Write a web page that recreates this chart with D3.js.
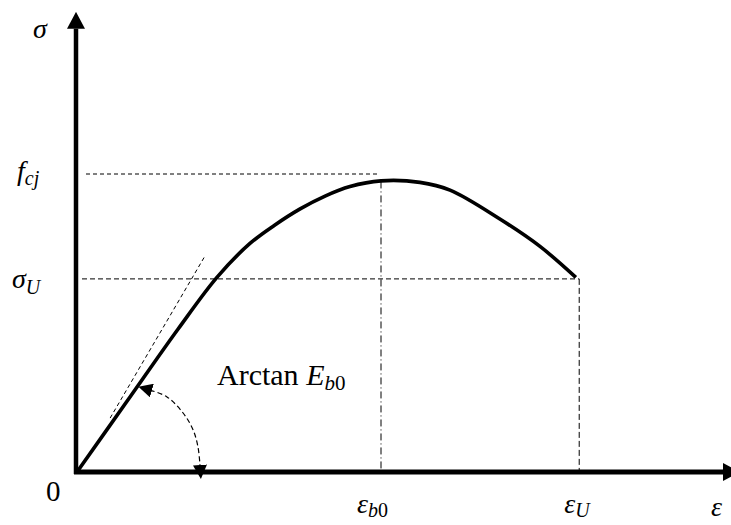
<!DOCTYPE html>
<html><head><meta charset="utf-8">
<script src="https://cdn.jsdelivr.net/npm/d3@7"></script>
<style>html,body{margin:0;padding:0;background:#fff;overflow:hidden}</style>
</head><body>
<svg id="chart" width="731" height="525"></svg>
<script>
// Stress–strain curve of concrete (strain relative to ε_b0, stress relative to f_cj)
const strain = [0, 0.165, 0.332, 0.461, 0.569, 0.651, 0.734, 0.816, 0.898, 1.0, 1.128, 1.227, 1.391, 1.523, 1.641];
const stress = [0, 0.238, 0.479, 0.654, 0.767, 0.829, 0.883, 0.926, 0.958, 0.977, 0.972, 0.946, 0.849, 0.757, 0.653];

// Reference levels marked on the axes
const epsB0 = 1.0, epsU = 1.652;
const fcj = 1.0, sigmaU = 0.648;

// Initial tangent (modulus E_b0)
const tangentStrain = [0.109, 0.421];
const tangentStress = [0.181, 0.725];

// Angle arc showing arctan E_b0
const arcStrain = [0.240, 0.296, 0.349, 0.382, 0.398, 0.405];
const arcStress = [0.275, 0.252, 0.198, 0.141, 0.084, 0.017];

// Axis extents
const xMax = 2.125, yMax = 1.487;

const svg = d3.select("#chart");
const x = d3.scaleLinear().domain([0, 1]).range([77, 381]);
const y = d3.scaleLinear().domain([0, 1]).range([472, 174]);

const defs = svg.append("defs");
defs.append("marker").attr("id", "axisHead")
  .attr("markerUnits", "userSpaceOnUse")
  .attr("markerWidth", 17).attr("markerHeight", 18)
  .attr("refX", 0).attr("refY", 9).attr("orient", "auto")
  .append("path").attr("d", "M0,0 L17,9 L0,18 Z").attr("fill", "#000");
defs.append("marker").attr("id", "arcHead")
  .attr("markerUnits", "userSpaceOnUse")
  .attr("markerWidth", 14).attr("markerHeight", 14)
  .attr("refX", 2).attr("refY", 7).attr("orient", "auto-start-reverse")
  .append("path").attr("d", "M0,0 L14,7 L0,14 Z").attr("fill", "#000");

// Guide lines
svg.append("line")
  .attr("x1", x(0) + 9).attr("x2", x(epsB0) - 4)
  .attr("y1", y(fcj)).attr("y2", y(fcj))
  .attr("stroke", "#000").attr("stroke-width", 1).attr("stroke-dasharray", "4,3");
svg.append("line")
  .attr("x1", x(0) + 5).attr("x2", x(epsU))
  .attr("y1", y(sigmaU)).attr("y2", y(sigmaU))
  .attr("stroke", "#000").attr("stroke-width", 1).attr("stroke-dasharray", "5,3");
svg.append("line")
  .attr("x1", x(epsB0)).attr("x2", x(epsB0))
  .attr("y1", y(0.975)).attr("y2", y(0))
  .attr("stroke", "#000").attr("stroke-width", 1).attr("stroke-dasharray", "7,3,1,3");
svg.append("line")
  .attr("x1", x(epsU)).attr("x2", x(epsU))
  .attr("y1", y(sigmaU)).attr("y2", y(0))
  .attr("stroke", "#000").attr("stroke-width", 1).attr("stroke-dasharray", "6,3");

// Tangent at origin
svg.append("line")
  .attr("x1", x(tangentStrain[0])).attr("y1", y(tangentStress[0]))
  .attr("x2", x(tangentStrain[1])).attr("y2", y(tangentStress[1]))
  .attr("stroke", "#000").attr("stroke-width", 1).attr("stroke-dasharray", "4,3");

// Axes
svg.append("line")
  .attr("x1", x(0) - 3).attr("x2", x(xMax))
  .attr("y1", y(0)).attr("y2", y(0))
  .attr("stroke", "#000").attr("stroke-width", 5)
  .attr("marker-end", "url(#axisHead)");
svg.append("line")
  .attr("x1", x(0) - 1).attr("x2", x(0) - 1)
  .attr("y1", y(0) + 2).attr("y2", y(yMax))
  .attr("stroke", "#000").attr("stroke-width", 4.5)
  .attr("marker-end", "url(#axisHead)");

// Curve
const pts = strain.map((d, i) => [d, stress[i]]);
svg.append("path")
  .attr("d", d3.line().x(d => x(d[0])).y(d => y(d[1])).curve(d3.curveCatmullRom.alpha(0.5))(pts))
  .attr("fill", "none").attr("stroke", "#000").attr("stroke-width", 3.6)
  .attr("stroke-linejoin", "round");

// Angle arc
const arcPts = arcStrain.map((d, i) => [d, arcStress[i]]);
svg.append("path")
  .attr("d", d3.line().x(d => x(d[0])).y(d => y(d[1])).curve(d3.curveCatmullRom)(arcPts))
  .attr("fill", "none").attr("stroke", "#000").attr("stroke-width", 1.2)
  .attr("stroke-dasharray", "5,3")
  .attr("marker-start", "url(#arcHead)").attr("marker-end", "url(#arcHead)");

// Labels
const math = "'Liberation Serif', 'Times New Roman', serif";
function label(px, py, main, sub, size, subSize, dy) {
  const t = svg.append("text").attr("x", px).attr("y", py)
    .attr("font-family", math).attr("font-size", size).attr("font-style", "italic");
  t.append("tspan").text(main);
  if (sub) {
    const parts = Array.isArray(sub) ? sub : [[sub, true]];
    parts.forEach((p, k) => {
      const s = t.append("tspan").attr("font-size", subSize)
        .attr("font-style", p[1] ? "italic" : "normal").text(p[0]);
      if (k === 0) s.attr("dy", dy);
    });
  }
  return t;
}
label(33, 38, "σ", null, 28);
label(17, y(fcj) + 6, "f", "cj", 28, 20, 5);
label(12, y(sigmaU) + 9, "σ", "U", 28, 20, 6);
label(x(epsB0) - 24, 513, "ε", [["b", true], ["0", false]], 28, 20, 4);
label(x(epsU) - 15, 513, "ε", "U", 28, 20, 4);
label(711, 516, "ε", null, 28);

svg.append("text").attr("x", 46).attr("y", 501)
  .attr("font-family", math).attr("font-size", 29).text("0");

const arc = svg.append("text").attr("x", 217).attr("y", 385)
  .attr("font-family", math).attr("font-size", 30);
arc.append("tspan").text("Arctan ");
arc.append("tspan").attr("font-style", "italic").text("E");
arc.append("tspan").attr("font-size", 21).attr("font-style", "italic").attr("dy", 5).text("b");
arc.append("tspan").attr("font-size", 21).text("0");
</script>
</body></html>
